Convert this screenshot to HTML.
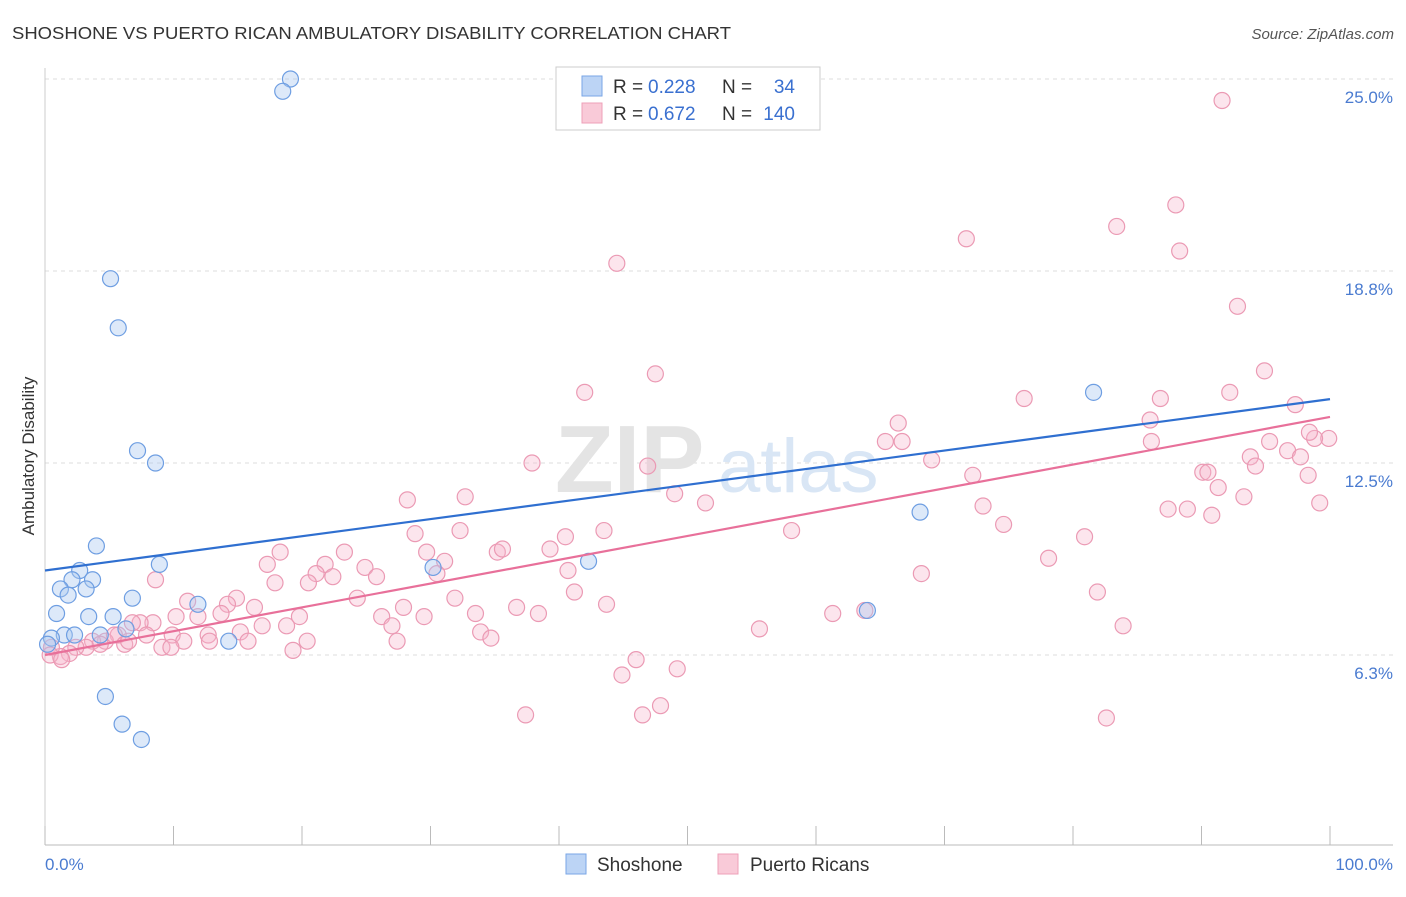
<!DOCTYPE html>
<html><head><meta charset="utf-8">
<style>
body{margin:0;background:#fff;font-family:"Liberation Sans",sans-serif;}
svg text{font-family:"Liberation Sans",sans-serif;}
</style></head>
<body>
<svg id="chart" width="1406" height="892" viewBox="0 0 1406 892" xmlns="http://www.w3.org/2000/svg">
<text x="12" y="39" font-size="17.5" fill="#333" textLength="719" lengthAdjust="spacingAndGlyphs">SHOSHONE VS PUERTO RICAN AMBULATORY DISABILITY CORRELATION CHART</text>
<text x="1394" y="39" font-size="15" fill="#555" text-anchor="end" font-style="italic">Source: ZipAtlas.com</text>
<g id="grid"></g>
<g>
<text x="555" y="492" font-size="96" fill="#e4e4e4" font-family="Liberation Serif" font-weight="bold">ZIP</text>
<text x="718" y="492" font-size="76" fill="#d9e6f5">atlas</text>
</g>
<line x1="45" y1="845" x2="1393" y2="845" stroke="#bbb"/>
<line x1="45" y1="68" x2="45" y2="845" stroke="#ccc"/>
<g id="xticks"></g>
<g id="yticks"></g>
<text x="45" y="870" font-size="17" fill="#4a7bd0">0.0%</text>
<text x="1393" y="870" font-size="17" fill="#4a7bd0" text-anchor="end">100.0%</text>
<text transform="translate(34,456) rotate(-90)" font-size="17" fill="#333" text-anchor="middle">Ambulatory Disability</text>
<g id="pink"></g>
<g id="blue"></g>
<g id="lines"></g>
<g>
<rect x="556" y="67" width="264" height="63" fill="#fff" stroke="#ccc"/>
<rect x="582" y="76" width="20" height="20" fill="#bcd4f5" stroke="#7aa6e6"/>
<rect x="582" y="103" width="20" height="20" fill="#f9cad8" stroke="#eea0b8"/>
<text x="613" y="93" font-size="19" fill="#333">R =</text>
<text x="648" y="93" font-size="19" fill="#3a70d0">0.228</text>
<text x="722" y="93" font-size="19" fill="#333">N =</text>
<text x="795" y="93" font-size="19" fill="#3a70d0" text-anchor="end">34</text>
<text x="613" y="120" font-size="19" fill="#333">R =</text>
<text x="648" y="120" font-size="19" fill="#3a70d0">0.672</text>
<text x="722" y="120" font-size="19" fill="#333">N =</text>
<text x="795" y="120" font-size="19" fill="#3a70d0" text-anchor="end">140</text>
</g>
<g>
<rect x="566" y="854" width="20" height="20" fill="#bcd4f5" stroke="#7aa6e6"/>
<text x="597" y="871" font-size="19" fill="#333">Shoshone</text>
<rect x="718" y="854" width="20" height="20" fill="#f9cad8" stroke="#eea0b8"/>
<text x="750" y="871" font-size="19" fill="#333">Puerto Ricans</text>
</g>
</svg>
<script>
const yTickValues=[25,18.75,12.5,6.25];
const yTickLabels=["25.0%","18.8%","12.5%","6.3%"];
const xTickValues=[0,10,20,30,40,50,60,70,80,90,100];
const blueX=[19.1,18.5,5.1,5.7,7.2,8.6,4.0,8.9,2.7,2.1,3.7,1.2,3.2,1.8,6.8,11.9,0.9,3.4,5.3,6.3,1.5,4.3,0.5,0.2,14.3,4.7,6.0,7.5,30.2,42.3,81.6,68.1,64.0,2.3];
const blueY=[25.0,24.6,18.5,16.9,12.9,12.5,9.8,9.2,9.0,8.7,8.7,8.4,8.4,8.2,8.1,7.9,7.6,7.5,7.5,7.1,6.9,6.9,6.8,6.6,6.7,4.9,4.0,3.5,9.1,9.3,14.8,10.9,7.7,6.9];
const pinkX=[91.6,88.0,83.4,71.7,88.3,44.5,92.8,47.5,42.0,94.9,76.2,86.8,92.2,97.3,66.4,65.4,66.7,86.0,86.1,99.9,98.8,95.3,98.4,96.7,97.7,93.8,94.2,37.9,46.9,69.0,72.2,90.1,90.5,98.3,91.3,93.3,28.2,32.7,49.0,51.4,73.0,87.4,88.9,90.8,99.2,74.6,58.1,32.3,28.8,43.5,40.5,80.9,23.3,18.3,29.7,35.2,35.6,39.3,78.1,17.3,21.8,24.9,31.1,30.5,40.7,21.1,25.8,22.4,20.5,17.9,8.6,68.2,41.2,81.9,24.3,31.9,14.9,11.1,14.2,43.7,27.9,36.7,38.4,16.3,19.8,26.2,29.5,33.5,13.7,11.9,10.2,8.4,7.4,61.3,63.8,6.8,16.9,18.8,27.0,9.9,12.7,15.2,33.9,34.7,7.9,5.7,4.7,10.8,12.8,15.8,20.4,27.4,5.4,6.2,9.1,9.8,19.3,3.7,3.2,2.4,1.9,1.2,0.5,0.4,1.3,55.6,83.9,46.0,44.9,49.2,47.9,46.5,37.4,82.6,6.5,4.3];
const pinkY=[24.3,20.9,20.2,19.8,19.4,19.0,17.6,15.4,14.8,15.5,14.6,14.6,14.8,14.4,13.8,13.2,13.2,13.9,13.2,13.3,13.3,13.2,13.5,12.9,12.7,12.7,12.4,12.5,12.4,12.6,12.1,12.2,12.2,12.1,11.7,11.4,11.3,11.4,11.5,11.2,11.1,11.0,11.0,10.8,11.2,10.5,10.3,10.3,10.2,10.3,10.1,10.1,9.6,9.6,9.6,9.6,9.7,9.7,9.4,9.2,9.2,9.1,9.3,8.9,9.0,8.9,8.8,8.8,8.6,8.6,8.7,8.9,8.3,8.3,8.1,8.1,8.1,8.0,7.9,7.9,7.8,7.8,7.6,7.8,7.5,7.5,7.5,7.6,7.6,7.5,7.5,7.3,7.3,7.6,7.7,7.3,7.2,7.2,7.2,6.9,6.9,7.0,7.0,6.8,6.9,6.9,6.7,6.7,6.7,6.7,6.7,6.7,6.9,6.6,6.5,6.5,6.4,6.7,6.5,6.5,6.3,6.2,6.5,6.25,6.1,7.1,7.2,6.1,5.6,5.8,4.6,4.3,4.3,4.2,6.7,6.6];
const blueFit=[9.0,14.58];
const pinkFit=[6.25,14.0];

const NS="http://www.w3.org/2000/svg";
const sx=v=>45+v*12.85;
const sy=v=>847-v*30.72;
function mk(t,a,p){const e=document.createElementNS(NS,t);for(const k in a)e.setAttribute(k,a[k]);p.appendChild(e);return e;}
const grid=document.getElementById('grid'),yt=document.getElementById('yticks'),xt=document.getElementById('xticks');
yTickValues.forEach((v,i)=>{
 const l=mk('line',{x1:45,x2:1393,y1:sy(v),y2:sy(v),stroke:'#ddd','stroke-dasharray':'4,4'},grid);
 
 
 const t=mk('text',{x:1393,y:sy(v)+24,'font-size':17,fill:'#4a7bd0','text-anchor':'end'},yt);
 t.textContent=yTickLabels[i];
 
 
});
xTickValues.forEach(v=>{
 const l=mk('line',{x1:sx(v),x2:sx(v),y1:826,y2:845,stroke:'#bbb'},xt);
 
 
});
const pg=document.getElementById('pink'),bg=document.getElementById('blue'),lg=document.getElementById('lines');
pinkX.forEach((x,i)=>{
 const c=mk('circle',{cx:sx(x),cy:sy(pinkY[i]),r:8,fill:'rgba(246,180,202,0.35)',stroke:'#eb9ab4','stroke-width':1.2},pg);
 
 
});
blueX.forEach((x,i)=>{
 const c=mk('circle',{cx:sx(x),cy:sy(blueY[i]),r:8,fill:'rgba(170,200,240,0.4)',stroke:'#6e9ee2','stroke-width':1.2},bg);
 
 
});
const bl=mk('line',{x1:sx(0),y1:sy(blueFit[0]),x2:sx(100),y2:sy(blueFit[1]),stroke:'#2f6fd0','stroke-width':2.2},lg);


const pl=mk('line',{x1:sx(0),y1:sy(pinkFit[0]),x2:sx(100),y2:sy(pinkFit[1]),stroke:'#e8709a','stroke-width':2.2},lg);


</script>
</body></html>
